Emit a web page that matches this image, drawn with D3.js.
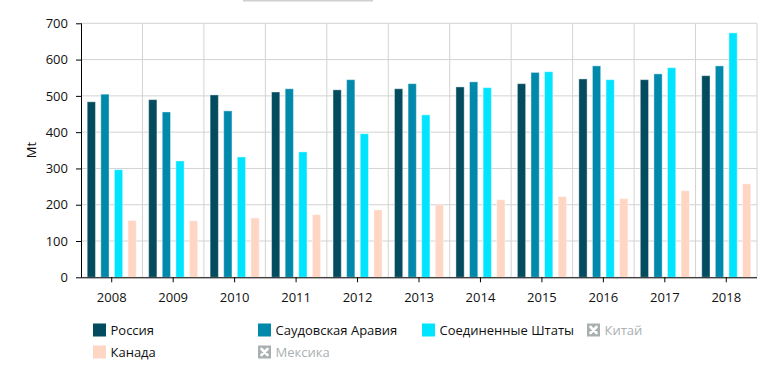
<!DOCTYPE html>
<html><head><meta charset="utf-8">
<script src="https://cdn.jsdelivr.net/npm/d3@7"></script>
<style>body{margin:0;background:#fff}svg{display:block;font-family:"Open Sans",sans-serif}</style>
</head><body><svg id="c" width="783" height="379"></svg>
<script>
const years = ["2008","2009","2010","2011","2012","2013","2014","2015","2016","2017","2018"];
const russia = [485,491,504,512,518,521,526,535,548,546,557];
const saudi = [506,457,460,521,546,535,540,566,584,562,584];
const usa = [298,322,333,347,397,449,524,568,546,579,675];
const canada = [158,157,165,174,187,201,215,224,218,240,259];
const yTicks = [0,100,200,300,400,500,600,700];
const seriesNames = ["Россия","Саудовская Аравия","Соединенные Штаты","Китай","Канада","Мексика"];
const seriesColors = ["#034b5e","#0089ab","#00e4ff","#a8b0b0","#ffd5c3","#a8b0b0"];
const hidden = [false,false,false,true,false,true];

const series = [
  {name:"Россия", values:russia, color:"#034b5e"},
  {name:"Саудовская Аравия", values:saudi, color:"#0089ab"},
  {name:"Соединенные Штаты", values:usa, color:"#00e4ff"},
  {name:"Канада", values:canada, color:"#ffd5c3"}
];

const svg = d3.select("#c");
const L = 81, R = 757, T = 23.3, B = 277.3;
const x = d3.scaleBand().domain(years).range([L,R]).padding(0);
const xi = d3.scaleBand().domain(series.map(s=>s.name)).range([0,x.bandwidth()]).paddingInner(0.32).paddingOuter(0.42);
const y = d3.scaleLinear().domain([0,700]).range([B,T]);

// top grey remnant
svg.append("rect").attr("x",243).attr("y",0).attr("width",130).attr("height",1.5).attr("fill","#cfcfcf");

// gridlines
const g = svg.append("g");
g.selectAll(".hg").data(yTicks).join("line")
  .attr("x1",L).attr("x2",R).attr("y1",d=>y(d)).attr("y2",d=>y(d))
  .attr("stroke","#d3d3d3").attr("stroke-width",1);
g.selectAll(".vg").data(years.slice(1).map(d=>x(d)).concat([R])).join("line")
  .attr("x1",d=>d).attr("x2",d=>d).attr("y1",T).attr("y2",B)
  .attr("stroke","#d3d3d3").attr("stroke-width",1);

// bars
series.forEach(s=>{
  svg.append("g").selectAll("rect").data(years).join("rect")
    .attr("x",(d)=>x(d)+xi(s.name)+0.5)
    .attr("width",xi.bandwidth()-1)
    .attr("y",(d,i)=>y(s.values[i])+0.5)
    .attr("height",(d,i)=>B-y(s.values[i])-0.5)
    .attr("fill",s.color)
    .attr("stroke","rgba(255,255,255,0.4)").attr("stroke-width",1);
});

// axes
const ya = svg.append("g").attr("transform",`translate(${L},0)`)
  .call(d3.axisLeft(y).tickValues(yTicks).tickSize(5).tickPadding(8));
ya.select(".domain").attr("stroke","#000").attr("d",`M0.5,${T}V${B}`);
ya.selectAll("text").attr("font-size",13).attr("fill","#111").attr("font-family","Open Sans");
ya.selectAll(".tick line").attr("stroke","#000");

const xa = svg.append("g").attr("transform",`translate(0,${B})`)
  .call(d3.axisBottom(x).tickSize(5).tickPadding(10));
xa.select(".domain").attr("stroke","#000").attr("d",`M${L},0.5H${R}`);
xa.selectAll("text").attr("font-size",13).attr("fill","#111").attr("font-family","Open Sans");
xa.selectAll(".tick line").attr("stroke","#000");

svg.append("text").attr("transform","translate(36,150) rotate(-90)")
  .attr("text-anchor","middle").attr("font-size",13).attr("fill","#111").text("Mt");

// legend
const cols = [93,258,422,587];
const leg = svg.append("g");
seriesNames.forEach((n,i)=>{
  const cx = cols[i%4], cy = 323.5 + Math.floor(i/4)*22;
  const it = leg.append("g").attr("transform",`translate(${cx},${cy})`);
  it.append("rect").attr("width",13).attr("height",13).attr("fill",seriesColors[i]);
  if(hidden[i]){
    it.append("path").attr("d","M3.5,3.5L9.5,9.5M9.5,3.5L3.5,9.5").attr("stroke","#fff").attr("stroke-width",2.6).attr("stroke-linecap","round");
  }
  it.append("text").attr("x",17.5).attr("y",11.5).attr("font-size",13)
    .attr("fill",hidden[i]?"#a9b0b2":"#111").text(n);
});
</script></body></html>
